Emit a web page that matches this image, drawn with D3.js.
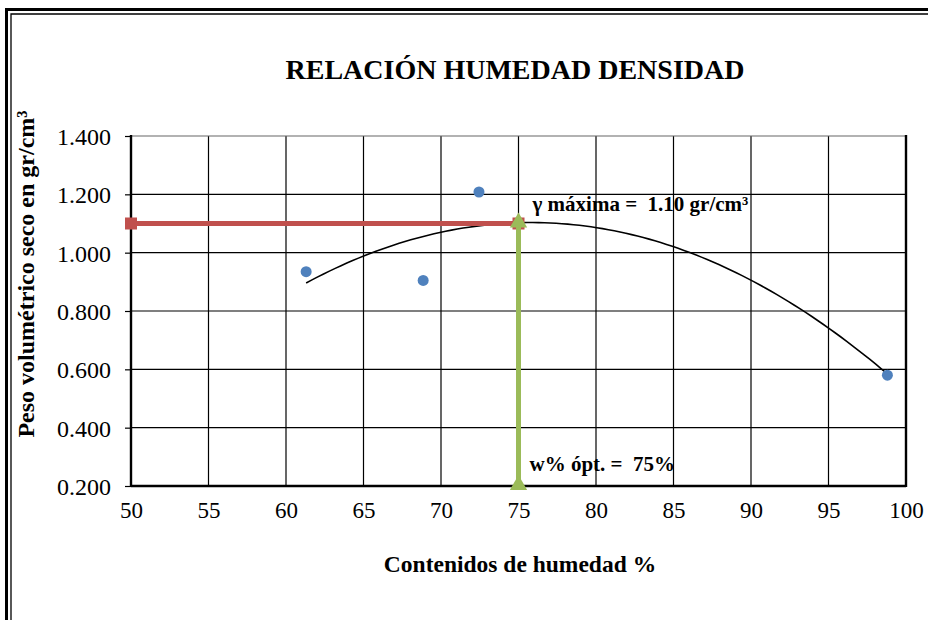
<!DOCTYPE html>
<html>
<head>
<meta charset="utf-8">
<script src="https://cdn.jsdelivr.net/npm/d3@7"></script>
<style>
  html, body { margin: 0; padding: 0; background: #fff; }
  svg { display: block; }
  text { font-family: "Liberation Serif", "Times New Roman", serif; fill: #000; }
</style>
</head>
<body>
<svg id="chart" width="928" height="620"></svg>
<script>
// Ensayo de compactación: humedad (%) vs peso volumétrico seco (gr/cm³)
const moisture = [61.3, 68.85, 72.45, 98.8];
const dryDensity = [0.935, 0.905, 1.208, 0.58];

// Valores óptimos
const optMoisture = 75;
const maxDensity = 1.10;

const xTicks = [50, 55, 60, 65, 70, 75, 80, 85, 90, 95, 100];
const yTicks = [0.2, 0.4, 0.6, 0.8, 1.0, 1.2, 1.4];

(function () {
const svg = d3.select("#chart");
const W = 928, H = 620;
const pLeft = 131, pRight = 906, pTop = 136, pBottom = 486;

const x = d3.scaleLinear().domain([50, 100]).range([pLeft, pRight]);
const y = d3.scaleLinear().domain([0.2, 1.4]).range([pBottom, pTop]);

// Marco doble del gráfico
svg.append("path")
  .attr("d", `M6.5,${H} V9.5 H${W}`)
  .attr("fill", "none").attr("stroke", "#000").attr("stroke-width", 3);
svg.append("path")
  .attr("d", `M11,${H} V14 H${W}`)
  .attr("fill", "none").attr("stroke", "#000").attr("stroke-width", 1.3);

// Título
svg.append("text")
  .attr("x", 515).attr("y", 79)
  .attr("text-anchor", "middle")
  .attr("font-size", 28).attr("font-weight", "bold")
  .text("RELACIÓN HUMEDAD DENSIDAD");

// Rejilla
const grid = svg.append("g");
grid.selectAll("line.v").data(xTicks.slice(1, -1)).join("line")
  .attr("x1", d => x(d)).attr("x2", d => x(d))
  .attr("y1", pTop).attr("y2", pBottom)
  .attr("stroke", "#000").attr("stroke-width", 1.2);
grid.selectAll("line.h").data(yTicks.slice(1)).join("line")
  .attr("x1", pLeft).attr("x2", pRight)
  .attr("y1", d => y(d)).attr("y2", d => y(d))
  .attr("stroke", d => d === 1.4 ? "#666" : "#000").attr("stroke-width", 1.2);

// Ejes
const yAxis = d3.axisLeft(y).tickValues(yTicks).tickSize(6).tickPadding(14)
  .tickFormat(d3.format(".3f"));
const gy = svg.append("g").attr("transform", `translate(${pLeft},0)`).call(yAxis);
gy.select(".domain").remove();
gy.selectAll(".tick line").attr("stroke", "#000").attr("stroke-width", 1.2);
gy.selectAll(".tick text").attr("font-size", 24)
  .attr("font-family", "Liberation Serif, serif").attr("dy", "0.35em");

const xAxis = d3.axisBottom(x).tickValues(xTicks).tickSize(0).tickPadding(16)
  .tickFormat(d3.format("d"));
const gx = svg.append("g").attr("transform", `translate(0,${pBottom})`).call(xAxis);
gx.select(".domain").remove();
gx.selectAll(".tick text").attr("font-size", 23)
  .attr("font-family", "Liberation Serif, serif");

// Bordes del área de trazado
svg.append("line").attr("x1", pLeft).attr("x2", pLeft).attr("y1", pTop - 1).attr("y2", pBottom + 1)
  .attr("stroke", "#000").attr("stroke-width", 2.4);
svg.append("line").attr("x1", pRight).attr("x2", pRight).attr("y1", pTop - 1).attr("y2", pBottom + 1)
  .attr("stroke", "#000").attr("stroke-width", 2.4);
svg.append("line").attr("x1", pLeft).attr("x2", pRight).attr("y1", pBottom).attr("y2", pBottom)
  .attr("stroke", "#000").attr("stroke-width", 2.4);

// Línea de tendencia polinómica de 2º orden (mínimos cuadrados)
function quadFit(xs, ys) {
  const n = xs.length;
  const s = [0, 0, 0, 0, 0], t = [0, 0, 0];
  for (let i = 0; i < n; i++) {
    const xi = xs[i];
    for (let k = 0; k <= 4; k++) s[k] += Math.pow(xi, k);
    for (let k = 0; k <= 2; k++) t[k] += ys[i] * Math.pow(xi, k);
  }
  const A = [[s[0], s[1], s[2], t[0]], [s[1], s[2], s[3], t[1]], [s[2], s[3], s[4], t[2]]];
  for (let c = 0; c < 3; c++) {
    for (let r = c + 1; r < 3; r++) {
      const f = A[r][c] / A[c][c];
      for (let k = c; k < 4; k++) A[r][k] -= f * A[c][k];
    }
  }
  const coef = [0, 0, 0];
  for (let r = 2; r >= 0; r--) {
    let v = A[r][3];
    for (let k = r + 1; k < 3; k++) v -= A[r][k] * coef[k];
    coef[r] = v / A[r][r];
  }
  return coef;
}
const [c0, c1, c2] = quadFit(moisture, dryDensity);
const xMin = d3.min(moisture), xMax = d3.max(moisture);
const trend = d3.range(0, 101).map(i => {
  const xv = xMin + (xMax - xMin) * i / 100;
  return [xv, c0 + c1 * xv + c2 * xv * xv];
});
svg.append("path")
  .datum(trend)
  .attr("d", d3.line().x(d => x(d[0])).y(d => y(d[1])))
  .attr("fill", "none").attr("stroke", "#000").attr("stroke-width", 1.6);

// Puntos del ensayo
svg.selectAll("circle.pt").data(moisture).join("circle")
  .attr("cx", d => x(d)).attr("cy", (d, i) => y(dryDensity[i]))
  .attr("r", 5.5).attr("fill", "#4F81BD");

// Línea de densidad máxima
svg.append("line")
  .attr("x1", x(50)).attr("x2", x(optMoisture))
  .attr("y1", y(maxDensity)).attr("y2", y(maxDensity))
  .attr("stroke", "#C0504D").attr("stroke-width", 5);
svg.selectAll("rect.mk").data([50, optMoisture]).join("rect")
  .attr("x", d => x(d) - 6).attr("y", y(maxDensity) - 6)
  .attr("width", 12).attr("height", 12).attr("fill", "#C0504D");

// Línea de humedad óptima
svg.append("line")
  .attr("x1", x(optMoisture)).attr("x2", x(optMoisture))
  .attr("y1", y(maxDensity)).attr("y2", y(0.2))
  .attr("stroke", "#9BBB59").attr("stroke-width", 5);
const tri = d3.symbol().type(d3.symbolTriangle).size(130);
svg.selectAll("path.tri").data([maxDensity, 0.2]).join("path")
  .attr("d", tri)
  .attr("transform", d => `translate(${x(optMoisture)},${y(d) - 1})`)
  .attr("fill", "#9BBB59");

// Anotaciones
svg.append("text")
  .attr("x", x(optMoisture) + 14).attr("y", 211)
  .attr("font-size", 21).attr("font-weight", "bold")
  .attr("xml:space", "preserve")
  .text(`γ máxima =  ${maxDensity.toFixed(2)} gr/cm³`);
svg.append("text")
  .attr("x", x(optMoisture) + 11).attr("y", 471)
  .attr("font-size", 21).attr("font-weight", "bold")
  .attr("xml:space", "preserve")
  .text(`w% ópt. =  ${optMoisture}%`);

// Títulos de ejes
svg.append("text")
  .attr("x", 520).attr("y", 572)
  .attr("text-anchor", "middle")
  .attr("font-size", 23.5).attr("font-weight", "bold")
  .text("Contenidos de humedad %");
svg.append("text")
  .attr("transform", "translate(34,274) rotate(-90)")
  .attr("text-anchor", "middle")
  .attr("font-size", 24).attr("font-weight", "bold")
  .text("Peso volumétrico seco en gr/cm³");
})();
</script>
</body>
</html>
